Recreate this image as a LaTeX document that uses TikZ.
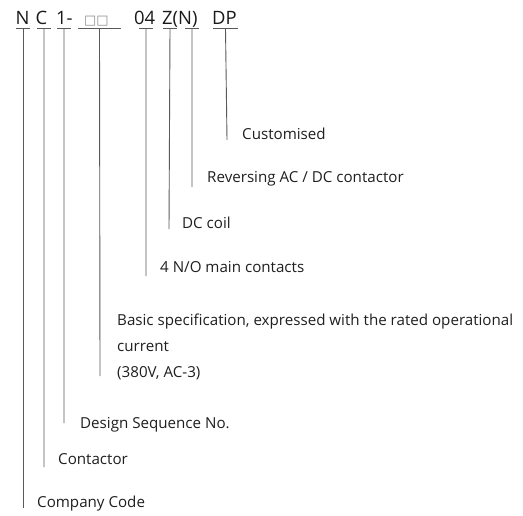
\documentclass[tikz,border=0pt]{standalone}
\usepackage{fontspec}
\usetikzlibrary{calc}
\setmainfont{Open Sans}
\newfontfamily\symfont{DejaVu Sans}
\begin{document}
\begin{tikzpicture}[x=1bp,y=-1bp,
  head/.style={inner sep=0pt,font=\fontsize{18.5}{18.5}\selectfont,text=black!90,anchor=base west},
  lab/.style={inner sep=0pt,anchor=base west,font=\fontsize{15.2}{26}\selectfont,text=black!88,align=left},
  ln/.style={draw=black!65,line width=0.9bp}]
\useasboundingbox (0,0) rectangle (523,516);
% header pieces
\node[head] (hN) at (15.5,25) {N};
\node[head] (hC) at (35.5,25) {C};
\node[head] (h1) at (56,25) {1-};
\node[head,font=\fontsize{13}{13}\selectfont\symfont,text=black!45] (hS) at (84,25) {□□};
\node[head] (h04) at (134,25) {04};
\node[head] (hZ) at (162,25) {Z(N)};
\node[head] (hDP) at (212,25) {DP};
% underlines
\foreach \a/\b/\n in {16/30/N,37/51/C,57/71/1,78/121/S,139/153/04,163/177/Z,185/199/P,213/238/DP}{
  \coordinate (uL\n) at (\a,28.5);
  \coordinate (uR\n) at (\b,28.5);
  \draw[ln] (uL\n) -- (uR\n);
}
% bottom ends
\coordinate (bN) at (23,508);
\coordinate (bC) at (44,467);
\coordinate (b1) at (64,423);
\coordinate (bS) at (100,376);
\coordinate (b04) at (146,276);
\coordinate (bZ) at (169,229);
\coordinate (bP) at (192,187);
\coordinate (bDP) at (227,140);
\foreach \n in {N,C,1,S,04,Z,P,DP}{
  \draw[ln] ($(uL\n)!0.5!(uR\n)$) -- (b\n);
}
% labels
\node[lab] (lDP) at (242,139.5) {Customised};
\node[lab] (lP) at (207,183) {Reversing AC / DC contactor};
\node[lab] (lZ) at (182,228) {DC coil};
\node[lab] (l04) at (160,272.5) {4 N/O main contacts};
\node[lab] (lS1) at (117,325) {Basic specification, expressed with the rated operational};
\node[lab] (lS2) at (117,351.5) {current};
\node[lab] (lS3) at (117,377) {(380V, AC-3)};
\node[lab] (l1) at (80,428) {Design Sequence No.};
\node[lab] (lC) at (58,464.5) {Contactor};
\node[lab] (lN) at (37,507.5) {Company Code};
\end{tikzpicture}
\end{document}
